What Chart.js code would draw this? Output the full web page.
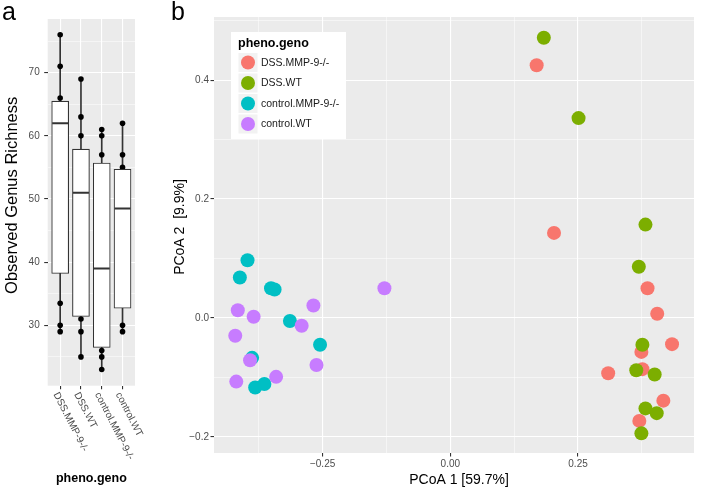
<!DOCTYPE html>
<html>
<head>
<meta charset="utf-8">
<script src="https://cdn.jsdelivr.net/npm/chart.js@4.4.1/dist/chart.umd.min.js"></script>
<style>
	body { margin: 0; background: #fff; width: 701px; height: 491px; position: relative; overflow: hidden; font-family: "Liberation Sans", Arial, sans-serif; }
	.tag { position: absolute; font-size: 25px; line-height: 1; color: #000; }
	#boxWrap { position: absolute; left: 0; top: 0; }
	#pcoaWrap { position: absolute; left: 170px; top: 0; }
</style>
</head>
<body>
<div id="boxWrap"><canvas id="boxChart" width="170" height="491"></canvas></div>
<div id="pcoaWrap"><canvas id="pcoaChart" width="531" height="491"></canvas></div>
<div class="tag" style="left:2px;top:-1px">a</div>
<div class="tag" style="left:171px;top:-1px">b</div>
<script>
// panel a : observed genus richness per group
const groups = ['DSS.MMP-9-/-', 'DSS.WT', 'control.MMP-9-/-', 'control.WT']
const boxLow = [38.2, 31.4, 26.5, 32.7]
const boxHigh = [65.5, 57.9, 55.7, 54.7]
const medians = [62, 51, 39, 48.5]
const whiskLow = [29, 25, 23, 29]
const whiskHigh = [76, 69, 61, 62]
const richPoints = [
	[76, 71, 66, 33.5, 30, 29],
	[69, 63, 60, 31, 29, 25],
	[61, 60, 57, 26, 25, 23],
	[62, 57, 55, 30, 29]
]
const richTicks = [30, 40, 50, 60, 70]

// panel b : PCoA coordinates
const dssMmpX = [0.169, 0.203, 0.386, 0.405, 0.434, 0.374, 0.376, 0.309, 0.417, 0.370]
const dssMmpY = [0.425, 0.143, 0.050, 0.007, -0.044, -0.057, -0.086, -0.093, -0.139, -0.173]
const dssWtX = [0.183, 0.251, 0.382, 0.369, 0.376, 0.364, 0.400, 0.382, 0.404, 0.374]
const dssWtY = [0.471, 0.336, 0.157, 0.086, -0.045, -0.088, -0.095, -0.152, -0.160, -0.194]
const ctlMmpX = [-0.397, -0.412, -0.351, -0.344, -0.314, -0.255, -0.388, -0.382, -0.364]
const ctlMmpY = [0.097, 0.068, 0.050, 0.048, -0.005, -0.045, -0.067, -0.117, -0.111]
const ctlWtX = [-0.129, -0.268, -0.416, -0.385, -0.291, -0.421, -0.392, -0.262, -0.341, -0.419]
const ctlWtY = [0.050, 0.021, 0.013, 0.002, -0.013, -0.030, -0.071, -0.079, -0.099, -0.107]
const pcoaXTicks = [-0.25, 0, 0.25]
const pcoaYTicks = [-0.2, 0, 0.2, 0.4]

var figure = (() => {
	const font = '"Liberation Sans", Arial, sans-serif'
	const colors = ['#F8766D', '#7CAE00', '#00BFC4', '#C77CFF']

	// majors plus the ggplot style minor lines half way between
	let withMinor = (majors, lo, hi) => {
		let step = majors[1] - majors[0]
		let all = []
		for (let v = majors[0] - step / 2; v <= hi + 1e-9; v += step / 2) {
			if (v >= lo - 1e-9) all.push(+v.toFixed(4))
		}
		return all
	}
	let isMajor = (majors, v) => majors.some(m => Math.abs(m - v) < 1e-6)
	let grid = majors => ({
		color: '#FFFFFF',
		lineWidth: c => isMajor(majors, c.tick.value) ? 1.1 : 0.5,
		tickColor: c => isMajor(majors, c.tick.value) ? '#333333' : 'rgba(0,0,0,0)',
		tickLength: 3.5,
		drawTicks: true,
		offset: false
	})
	let signed = (v, d) => (v < 0 ? '\u2212' : '') + Math.abs(v).toFixed(d)

	let panelBg = {
		id: 'panelBg',
		beforeDraw: chart => {
			let { ctx, chartArea: a } = chart
			ctx.save()
			ctx.fillStyle = '#EBEBEB'
			ctx.fillRect(a.left, a.top, a.right - a.left, a.bottom - a.top)
			ctx.restore()
		}
	}
	// axis titles, placed by hand like the ggplot figure
	let axisTitles = {
		id: 'axisTitles',
		afterDraw: (chart, args, o) => {
			let { ctx, chartArea: a } = chart
			ctx.save()
			ctx.fillStyle = '#000'
			ctx.textAlign = 'center'
			ctx.textBaseline = 'middle'
			ctx.font = o.xFont + ' ' + font
			ctx.fillText(o.xText, (a.left + a.right) / 2 + o.xShift, o.xY)
			ctx.translate(o.yX, (a.top + a.bottom) / 2 + o.yShift)
			ctx.rotate(-Math.PI / 2)
			ctx.font = o.yFont + ' ' + font
			ctx.fillText(o.yText, 0, 0)
			ctx.restore()
		}
	}
	let slantLabels = {
		id: 'slantLabels',
		afterDraw: chart => {
			let { ctx, chartArea, scales: { x } } = chart
			ctx.save()
			ctx.font = '10px ' + font
			ctx.fillStyle = '#4D4D4D'
			ctx.textAlign = 'left'
			ctx.textBaseline = 'top'
			groups.forEach((g, i) => {
				ctx.save()
				ctx.translate(x.getPixelForValue(i + 1), chartArea.bottom + 5)
				ctx.rotate(63 * Math.PI / 180)
				ctx.fillText(g, 0, 0)
				ctx.restore()
			})
			ctx.restore()
		}
	}
	let legendBox = {
		id: 'legendBox',
		afterDraw: chart => {
			let ctx = chart.ctx
			ctx.save()
			ctx.fillStyle = '#FFFFFF'
			ctx.fillRect(61, 32, 115, 107)
			ctx.fillStyle = '#000'
			ctx.font = 'bold 12.5px ' + font
			ctx.textBaseline = 'middle'
			ctx.fillText('pheno.geno', 68, 43.5)
			ctx.font = '10.5px ' + font
			groups.forEach((g, i) => {
				let cy = 62.5 + i * 20.5
				ctx.fillStyle = '#F2F2F2'
				ctx.fillRect(68.5, cy - 9.5, 19, 19)
				ctx.fillStyle = colors[i]
				ctx.beginPath()
				ctx.arc(78, cy, 7, 0, Math.PI * 2)
				ctx.fill()
				ctx.fillStyle = '#1A1A1A'
				ctx.fillText(g, 91, cy + 0.5)
			})
			ctx.restore()
		}
	}

	let drawBoxes = () => {
		let at = i => i + 1
		new Chart(document.getElementById('boxChart'), {
			type: 'bar',
			data: {
				datasets: [
					{
						type: 'line', label: 'median', order: 0, showLine: false,
						data: medians.map((m, i) => ({ x: at(i), y: m })),
						pointStyle: 'line', pointRadius: 8, pointBorderWidth: 2,
						pointBorderColor: '#333333', borderColor: '#333333'
					},
					{
						label: 'box', order: 1, grouped: false, barThickness: 17,
						data: groups.map((g, i) => ({ x: at(i), y: [boxLow[i], boxHigh[i]] })),
						backgroundColor: '#FFFFFF', borderColor: '#333333', borderWidth: 1.1, borderSkipped: false
					},
					{
						type: 'line', label: 'points', order: 2, showLine: false,
						data: richPoints.flatMap((vals, i) => vals.map(v => ({ x: at(i), y: v }))),
						pointRadius: 2.8, pointBackgroundColor: '#000', pointBorderWidth: 0
					},
					{
						label: 'whisker', order: 3, grouped: false, barThickness: 1,
						data: groups.map((g, i) => ({ x: at(i), y: [whiskLow[i], whiskHigh[i]] })),
						backgroundColor: '#333333', borderWidth: 0
					}
				]
			},
			options: {
				responsive: false, animation: false, devicePixelRatio: 1, events: [],
				layout: { padding: { top: 19, right: 35, left: 0, bottom: 0 } },
				plugins: {
					legend: { display: false }, tooltip: { enabled: false },
					axisTitles: { xText: 'pheno.geno', xFont: 'bold 12.5px', xShift: 0, xY: 478.5, yText: 'Observed Genus Richness', yFont: '16.5px', yX: 12.5, yShift: -7 }
				},
				scales: {
					x: {
						type: 'linear', min: 0.4, max: 4.6, offset: false,
						afterBuildTicks: s => { s.ticks = groups.map((g, i) => ({ value: at(i) })) },
						afterFit: s => { s.height = 105.3 },
						ticks: { display: false },
						grid: grid(groups.map((g, i) => at(i))),
						border: { display: false }
					},
					y: {
						type: 'linear', min: 20.44, max: 78.5,
						afterBuildTicks: s => { s.ticks = withMinor(richTicks, 20.44, 78.5).map(v => ({ value: v })) },
						afterFit: s => { s.width = 47.7 },
						ticks: { color: '#4D4D4D', font: { family: font, size: 10 }, padding: 4.5, callback: v => isMajor(richTicks, v) ? String(v) : '' },
						grid: grid(richTicks),
						border: { display: false }
					}
				}
			},
			plugins: [panelBg, slantLabels, axisTitles]
		})
	}

	let drawPcoa = () => {
		let sets = [
			[dssMmpX, dssMmpY],
			[dssWtX, dssWtY],
			[ctlMmpX, ctlMmpY],
			[ctlWtX, ctlWtY]
		]
		new Chart(document.getElementById('pcoaChart'), {
			type: 'scatter',
			data: {
				datasets: sets.map((s, i) => ({
					label: groups[i],
					order: 3 - i,
					data: s[0].map((x, j) => ({ x: x, y: s[1][j] })),
					pointRadius: 7, pointBorderWidth: 0,
					pointBackgroundColor: colors[i], backgroundColor: colors[i]
				}))
			},
			options: {
				responsive: false, animation: false, devicePixelRatio: 1, events: [],
				layout: { padding: { top: 17, right: 2, left: 0, bottom: 0 } },
				plugins: {
					legend: { display: false }, tooltip: { enabled: false },
					axisTitles: { xText: 'PCoA 1 [59.7%]', xFont: '14px', xShift: 5, xY: 480.5, yText: 'PCoA 2  [9.9%]', yFont: '14px', yX: 10, yShift: -8 }
				},
				scales: {
					x: {
						type: 'linear', min: -0.4626, max: 0.477,
						afterBuildTicks: s => { s.ticks = withMinor(pcoaXTicks, -0.4626, 0.477).map(v => ({ value: v })) },
						afterFit: s => { s.height = 38 },
						ticks: { color: '#4D4D4D', font: { family: font, size: 10 }, padding: 1.5, maxRotation: 0, callback: v => isMajor(pcoaXTicks, v) ? signed(v, 2) : '' },
						grid: grid(pcoaXTicks),
						border: { display: false }
					},
					y: {
						type: 'linear', min: -0.227, max: 0.506,
						afterBuildTicks: s => { s.ticks = withMinor(pcoaYTicks, -0.227, 0.506).map(v => ({ value: v })) },
						afterFit: s => { s.width = 44 },
						ticks: { color: '#4D4D4D', font: { family: font, size: 10 }, padding: 1.5, callback: v => isMajor(pcoaYTicks, v) ? signed(v, 1) : '' },
						grid: grid(pcoaYTicks),
						border: { display: false }
					}
				}
			},
			plugins: [panelBg, legendBox, axisTitles]
		})
	}

	let onCreate = () => {
		drawBoxes()
		drawPcoa()
	}
	return { onCreate }
})()

figure.onCreate()
</script>
</body>
</html>
